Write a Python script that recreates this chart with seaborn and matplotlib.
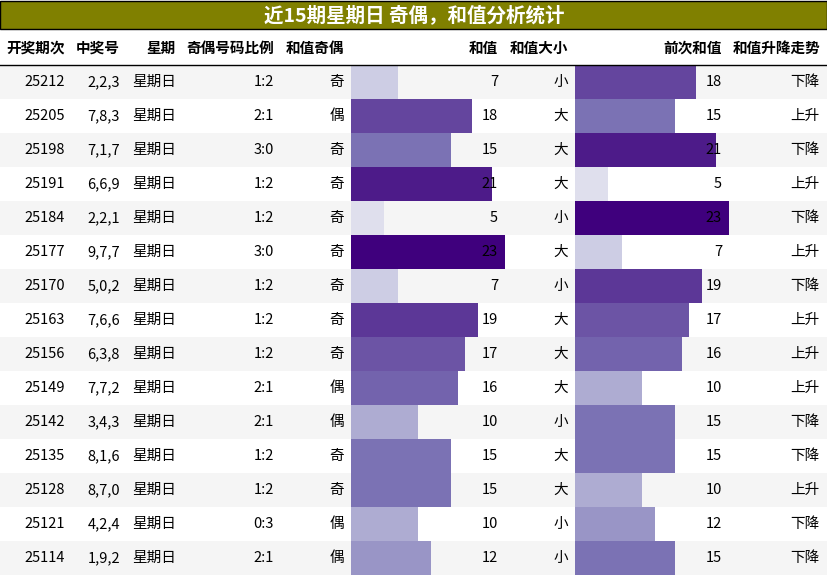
import matplotlib
matplotlib.use("Agg")
import matplotlib.pyplot as plt
from matplotlib import font_manager as fm
import seaborn as sns

cjk = None
for f in fm.fontManager.ttflist:
    if "CJK" in f.name and ("SC" in f.name or "JP" in f.name):
        cjk = f.name
        if "SC" in f.name:
            break
if cjk is None:
    for path in fm.findSystemFonts():
        if "NotoSansCJK" in path or "NotoSansSC" in path:
            fm.fontManager.addfont(path)
            cjk = fm.FontProperties(fname=path).get_name()
            break
plt.rcParams["font.family"] = [cjk or "Noto Sans CJK SC", "DejaVu Sans"]

issues = ["25212","25205","25198","25191","25184","25177","25170","25163","25156","25149","25142","25135","25128","25121","25114"]
numbers = ["2,2,3","7,8,3","7,1,7","6,6,9","2,2,1","9,7,7","5,0,2","7,6,6","6,3,8","7,7,2","3,4,3","8,1,6","8,7,0","4,2,4","1,9,2"]
weekday = ["星期日"] * 15
ratio = ["1:2","2:1","3:0","1:2","1:2","3:0","1:2","1:2","1:2","2:1","2:1","1:2","1:2","0:3","2:1"]
parity = ["奇","偶","奇","奇","奇","奇","奇","奇","奇","偶","偶","奇","奇","偶","偶"]
sums = [7,18,15,21,5,23,7,19,17,16,10,15,15,10,12]
size = ["小","大","大","大","小","大","小","大","大","大","小","大","大","小","小"]
prev_sums = [18,15,21,5,23,7,19,17,16,10,15,15,10,12,15]
trend = ["下降","上升","下降","上升","下降","上升","下降","上升","上升","上升","下降","下降","上升","下降","下降"]
headers = ["开奖期次","中奖号","星期","奇偶号码比例","和值奇偶","和值","和值大小","前次和值","和值升降走势"]
title = "近15期星期日 奇偶，和值分析统计"

W, H = 828, 576
fig = plt.figure(figsize=(W/100, H/100), dpi=100)
ax = fig.add_axes([0, 0, 1, 1])
ax.set_xlim(0, W); ax.set_ylim(H, 0); ax.axis("off")

top, rh = 65, 34
for i in range(15):
    y0 = top + i*rh
    if i % 2 == 0:
        ax.add_patch(plt.Rectangle((0, y0), W, rh, facecolor="#f5f5f5", edgecolor="none", zorder=0))

cmap = plt.get_cmap("Purples")
def cols(vals):
    return [cmap(0.22 + 0.78*(v-5)/18) for v in vals]

idx = list(range(15))
for x0, vals in [(351, sums), (575, prev_sums)]:
    bax = fig.add_axes([x0/W, 1-(top+15*rh)/H, 154/W, 15*rh/H])
    bax.patch.set_alpha(0)
    sns.barplot(x=vals, y=idx, hue=idx, palette=cols(vals), orient="h", saturation=1,
                width=1.0, legend=False, ax=bax, dodge=False)
    bax.set_xlim(0, 23); bax.set_ylim(14.5, -0.5); bax.axis("off")

# overlay for text
tx = fig.add_axes([0, 0, 1, 1])
tx.set_xlim(0, W); tx.set_ylim(H, 0); tx.axis("off"); tx.patch.set_alpha(0)
tx.add_patch(plt.Rectangle((0.5, 0.5), W-1, 28, facecolor="#808000", edgecolor="black", lw=1))
tx.text(W/2, 15, title, color="white", fontsize=14, fontweight="bold", ha="center", va="center")
header_x = [65, 120, 176, 274, 344, 498, 568, 722, 820]
for hx, h in zip(header_x, headers):
    tx.text(hx, 48, h, ha="right", va="center", fontsize=10.5, fontweight="bold")
tx.plot([0, W], [64.5, 64.5], color="black", lw=1)
for i in range(15):
    yc = top + i*rh + rh/2
    tx.text(65, yc, issues[i], ha="right", va="center", fontsize=10.5)
    tx.text(120, yc, numbers[i], ha="right", va="center", fontsize=10.5)
    tx.text(176, yc, weekday[i], ha="right", va="center", fontsize=10.5)
    tx.text(274, yc, ratio[i], ha="right", va="center", fontsize=10.5)
    tx.text(344, yc, parity[i], ha="right", va="center", fontsize=10.5)
    tx.text(498, yc, str(sums[i]), ha="right", va="center", fontsize=10.5)
    tx.text(568, yc, size[i], ha="right", va="center", fontsize=10.5)
    tx.text(722, yc, str(prev_sums[i]), ha="right", va="center", fontsize=10.5)
    tx.text(820, yc, trend[i], ha="right", va="center", fontsize=10.5)

fig.savefig("out.png", dpi=100)
